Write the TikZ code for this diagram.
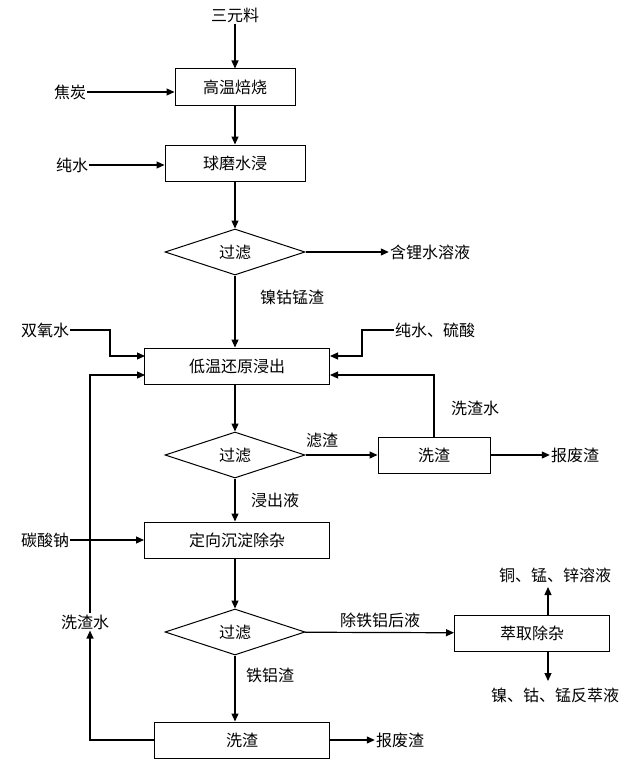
\documentclass[tikz,border=0pt]{standalone}
\usepackage{fontspec}
\setmainfont{Noto Sans CJK SC}
\usetikzlibrary{shapes.geometric,arrows.meta}
\begin{document}
\begin{tikzpicture}[x=1pt,y=-1pt,font=\fontsize{16}{18}\selectfont,
 box/.style={draw,line width=1pt,minimum height=36pt,inner sep=0pt},
 dia/.style={draw,diamond,aspect=3,line width=1pt,minimum width=140pt,minimum height=46pt,inner sep=0pt},
 lab/.style={inner sep=1pt},
 arr/.style={line width=1.2pt,-{Triangle[length=8pt,width=7pt]}},
 ln/.style={line width=1.2pt}]
\useasboundingbox (0,0) rectangle (640,760);
\node[lab] (s) at (235,15) {三元料};
\node[box,minimum width=120pt] (b1) at (235,87) {高温焙烧};
\node[lab] (jt) at (70,92) {焦炭};
\node[box,minimum width=140pt] (b2) at (235,163) {球磨水浸};
\node[lab] (cs) at (72,165) {纯水};
\node[dia] (d1) at (235,252) {过滤};
\node[lab] (hl) at (430,252) {含锂水溶液};
\node[lab] (ngm) at (292,297) {镍钴锰渣};
\node[box,minimum width=185pt] (b3) at (237,366) {低温还原浸出};
\node[lab] (sy) at (45,330) {双氧水};
\node[lab] (ls) at (435,330) {纯水、硫酸};
\node[dia] (d2) at (235,455) {过滤};
\node[lab] (lz) at (322,440) {滤渣};
\node[box,minimum width=112pt] (x1) at (434,455) {洗渣};
\node[lab] (bf1) at (575,455) {报废渣};
\node[lab] (xzs1) at (475,408) {洗渣水};
\node[lab] (jcy) at (275,500) {浸出液};
\node[box,minimum width=185pt] (b4) at (237,540) {定向沉淀除杂};
\node[lab] (tsn) at (45,540) {碳酸钠};
\node[dia] (d3) at (235,632) {过滤};
\node[lab] (ctl) at (380,620) {除铁铝后液};
\node[box,minimum width=155pt] (cq) at (532,633) {萃取除杂};
\node[lab] (tmx) at (555,575) {铜、锰、锌溶液};
\node[lab] (ngf) at (555,695) {镍、钴、锰反萃液};
\node[lab] (tlz) at (270,675) {铁铝渣};
\node[box,minimum width=175pt] (x2) at (242,740) {洗渣};
\node[lab] (bf2) at (400,740) {报废渣};
\node[lab,fill=white] (xzs2) at (85,622) {洗渣水};
\coordinate (r2) at (145,375);
\draw[arr] (s) -- (b1);
\draw[arr] (jt) -- (b1.west|-jt);
\draw[arr] (b1) -- (b2);
\draw[arr] (cs) -- (b2.west|-cs);
\draw[arr] (b2) -- (d1);
\draw[arr] (d1) -- (hl);
\draw[arr] (d1) -- (d1|-b3.north);
\draw[arr] (sy.east) -- (110,330) -- (110,356) -- (145,356);
\draw[arr] (ls.west) -- (362,330) -- (362,356) -- (330,356);
\draw[arr] (d2|-b3.south) -- (d2);
\draw[arr] (d2) -- (x1);
\draw[arr] (x1) -- (bf1);
\draw[arr] (x1.north) -- (434,375) -- (330,375);
\draw[arr] (d2) -- (d2|-b4.north);
\draw[arr] (tsn) -- (b4.west|-tsn);
\draw[arr] (d3|-b4.south) -- (d3);
\draw[arr] (d3) -- (cq);
\draw[arr] (548,615) -- (548,587);
\draw[arr] (548,652) -- (548,681);
\draw[arr] (d3) -- (d3|-x2.north);
\draw[arr] (x2) -- (bf2);
\draw[arr] (x2.west) -- (90,740) -- (xzs2.south-|90,0);
\draw[arr] (xzs2.north-|90,0) -- (90,375) -- (r2);
\end{tikzpicture}
\end{document}
